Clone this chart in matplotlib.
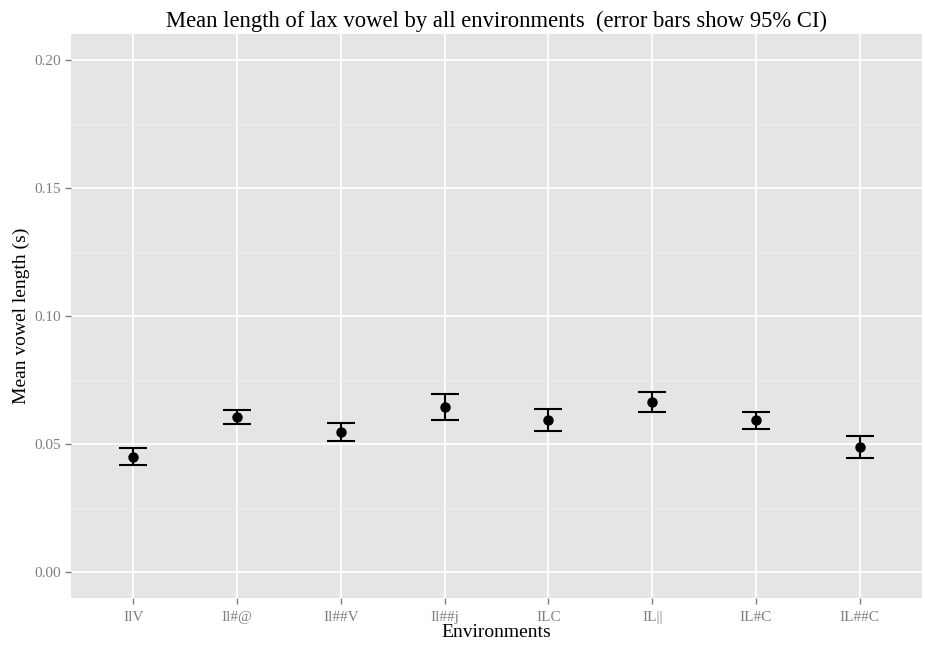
import numpy as np
import matplotlib
matplotlib.use("Agg")
import matplotlib.pyplot as plt

envs = ["IlV", "Il#@", "Il##V", "Il##j", "ILC", "IL||", "IL#C", "IL##C"]
means = [0.0449, 0.0606, 0.0547, 0.0644, 0.0593, 0.0663, 0.0594, 0.0489]
ci_low = [0.0417, 0.0577, 0.0511, 0.0595, 0.0550, 0.0624, 0.0561, 0.0447]
ci_high = [0.0486, 0.0635, 0.0584, 0.0697, 0.0639, 0.0704, 0.0625, 0.0530]

plt.rcParams['font.family'] = ['Liberation Serif', 'DejaVu Serif']

fig = plt.figure(figsize=(9.25, 6.47), dpi=100)
# panel spans x 71..922, y 34..598 px
ax = fig.add_axes([71/925, 49/647, 851/925, 564/647])
ax.set_facecolor("#E5E5E5")

x = np.arange(1, len(envs) + 1)
m = np.array(means)
yerr = [m - np.array(ci_low), np.array(ci_high) - m]
ax.errorbar(x, m, yerr=yerr, fmt='o', color='black', ms=6.5,
            elinewidth=1.5, capsize=10, capthick=1.5, zorder=3)

ax.set_xlim(0.4, 8.6)
ax.set_ylim(-0.01, 0.21)
ax.set_xticks(x)
ax.set_xticklabels(envs)
ax.set_yticks([0, 0.05, 0.10, 0.15, 0.20])
ax.set_yticklabels(["0.00", "0.05", "0.10", "0.15", "0.20"])
ax.set_yticks([0.025, 0.075, 0.125, 0.175], minor=True)

ax.grid(which='major', color='white', lw=1.3)
ax.grid(which='minor', axis='y', color='#F2F2F2', lw=0.6)
ax.set_axisbelow(True)
for s in ax.spines.values():
    s.set_visible(False)
ax.tick_params(which='major', colors='#7F7F7F', labelcolor='#7F7F7F',
               labelsize=11, length=4.5, width=1, pad=2.5)
ax.tick_params(axis='x', which='major', pad=5)
ax.tick_params(which='minor', length=0)

ax.set_xlabel("Environments", fontsize=14, labelpad=0)
ax.set_ylabel("Mean vowel length (s)", fontsize=14, labelpad=3)
ax.set_title("Mean length of lax vowel by all environments  (error bars show 95% CI)",
             fontsize=16.3, pad=5)

fig.savefig("out.png", dpi=100)
